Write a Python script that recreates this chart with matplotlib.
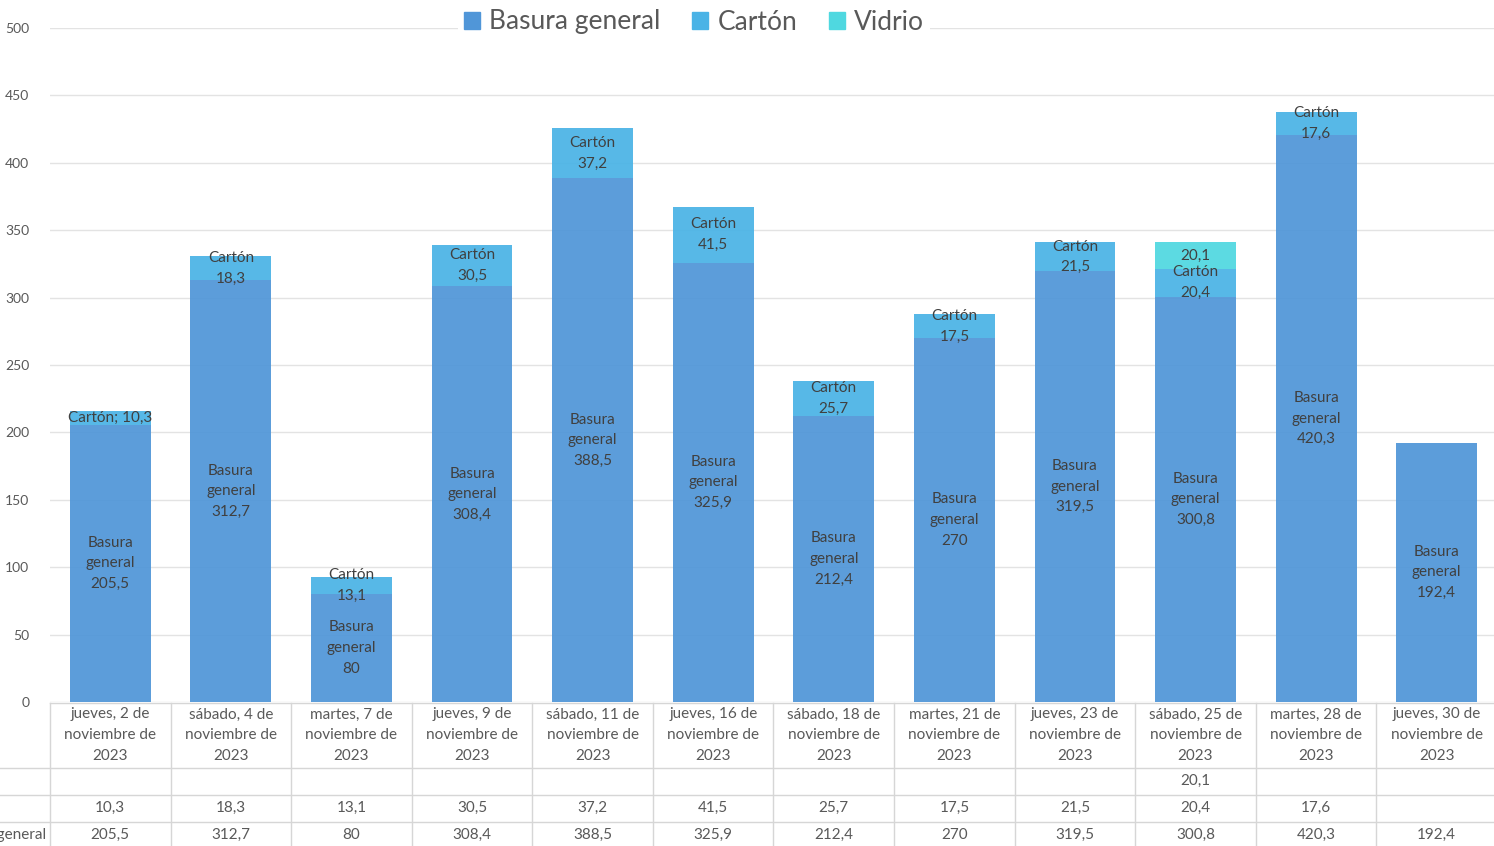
import numpy as np
import matplotlib
matplotlib.use("Agg")
import matplotlib.pyplot as plt
from matplotlib.patches import Patch
from matplotlib.lines import Line2D
from matplotlib.transforms import blended_transform_factory

plt.rcParams["font.family"] = ["Lato", "DejaVu Sans"]

# ── Data ────────────────────────────────────────────────────────────────
categories = [
    "jueves, 2 de\nnoviembre de\n2023",
    "sábado, 4 de\nnoviembre de\n2023",
    "martes, 7 de\nnoviembre de\n2023",
    "jueves, 9 de\nnoviembre de\n2023",
    "sábado, 11 de\nnoviembre de\n2023",
    "jueves, 16 de\nnoviembre de\n2023",
    "sábado, 18 de\nnoviembre de\n2023",
    "martes, 21 de\nnoviembre de\n2023",
    "jueves, 23 de\nnoviembre de\n2023",
    "sábado, 25 de\nnoviembre de\n2023",
    "martes, 28 de\nnoviembre de\n2023",
    "jueves, 30 de\nnoviembre de\n2023",
]
basura = [205.5, 312.7, 80, 308.4, 388.5, 325.9, 212.4, 270, 319.5, 300.8, 420.3, 192.4]
carton = [10.3, 18.3, 13.1, 30.5, 37.2, 41.5, 25.7, 17.5, 21.5, 20.4, 17.6, np.nan]
vidrio = [np.nan] * 9 + [20.1] + [np.nan, np.nan]
series_names = ["Basura general", "Cartón", "Vidrio"]

C_BASURA = "#5096d8"
C_CARTON = "#4ab3e6"
C_VIDRIO = "#4fd8e0"
TXT = "#595959"
LBL = "#404040"
GRID = "#e3e3e3"


def fmt(v):
    if np.isnan(v):
        return ""
    if float(v).is_integer():
        return str(int(v))
    return f"{v:.1f}".replace(".", ",")


W, H = 1494, 846
fig = plt.figure(figsize=(W / 100, H / 100), dpi=100)
fig.patch.set_facecolor("white")


def fy(px):
    return 1 - px / H


ax = fig.add_axes([50 / W, fy(702), (1497 - 50) / W, 674 / H])
ax.set_facecolor("white")
for s in ax.spines.values():
    s.set_visible(False)

x = np.arange(len(categories))
b = np.array(basura, dtype=float)
c = np.nan_to_num(np.array(carton, dtype=float))
v = np.nan_to_num(np.array(vidrio, dtype=float))
bw = 0.67

ax.bar(x, b, bw, color=C_BASURA, alpha=0.93, zorder=2)
ax.bar(x, c, bw, bottom=b, color=C_CARTON, alpha=0.93, zorder=2)
ax.bar(x, v, bw, bottom=b + c, color=C_VIDRIO, alpha=0.93, zorder=2)

ax.set_xlim(-0.5, len(categories) - 0.5)
ax.set_ylim(0, 500)
ax.set_yticks(np.arange(0, 501, 50))
ax.yaxis.grid(True, color=GRID, linewidth=1.0, zorder=0)
ax.set_axisbelow(True)
ax.tick_params(axis="y", length=0, pad=15, labelsize=10, labelcolor=TXT)
ax.tick_params(axis="x", length=0, labelbottom=False)

# ── Data labels ─────────────────────────────────────────────────────────
lkw = dict(ha="center", va="center", fontsize=11, color=LBL, linespacing=1.6, zorder=5)
for i in range(len(categories)):
    ax.text(x[i], b[i] / 2, f"Basura\ngeneral\n{fmt(b[i])}", **lkw)
    cv = carton[i]
    if not np.isnan(cv):
        mid = b[i] + cv / 2
        if cv < 12:
            ax.text(x[i], mid, f"Cartón; {fmt(cv)}", **lkw)
        else:
            ax.text(x[i], mid, f"Cartón\n{fmt(cv)}", **lkw)
    vv = vidrio[i]
    if not np.isnan(vv):
        ax.text(x[i], b[i] + c[i] + vv / 2, fmt(vv), **lkw)

# ── Data table below the plot ───────────────────────────────────────────
tr = blended_transform_factory(ax.transData, fig.transFigure)
line_kw = dict(color="#d6d6d6", linewidth=1.0, clip_on=False)
y_top, y_r1, y_r2, y_r3, y_bot = fy(703), fy(768), fy(795), fy(822), fy(850)
n = len(categories)
# horizontal lines
ax.add_line(Line2D([-0.5, n - 0.5], [y_top, y_top], transform=tr, **line_kw))
for yy in (y_r1, y_r2, y_r3):
    fig.add_artist(Line2D([0, 1], [yy, yy], transform=fig.transFigure, color="#d6d6d6", linewidth=1.0))
# vertical lines
for k in range(n + 1):
    ax.add_line(Line2D([k - 0.5, k - 0.5], [y_top, y_bot], transform=tr, **line_kw))

tkw = dict(ha="center", va="center", fontsize=11, color=TXT, transform=tr, clip_on=False)
for i in range(n):
    ax.text(x[i], fy(735), categories[i], linespacing=1.6, **tkw)
    ax.text(x[i], fy(781), fmt(vidrio[i]), **tkw)
    ax.text(x[i], fy(808), fmt(carton[i]), **tkw)
    ax.text(x[i], fy(835), fmt(basura[i]), **tkw)

# row header column: only the tail of the first label is visible at the left edge
fig.text(46 / W, fy(835), series_names[0], ha="right", va="center", fontsize=11, color=TXT)

# ── Legend ──────────────────────────────────────────────────────────────
handles = [Patch(color=C_BASURA), Patch(color=C_CARTON), Patch(color=C_VIDRIO)]
leg = fig.legend(
    handles, series_names,
    loc="center", bbox_to_anchor=(694 / W, fy(22)),
    ncol=3, fontsize=19, frameon=True, facecolor="white", edgecolor="none",
    framealpha=1, handlelength=0.6, handleheight=0.6, handletextpad=0.35,
    columnspacing=1.2, borderpad=0.25,
)
for t in leg.get_texts():
    t.set_color(TXT)

fig.savefig("out.png", dpi=100, facecolor="white")
